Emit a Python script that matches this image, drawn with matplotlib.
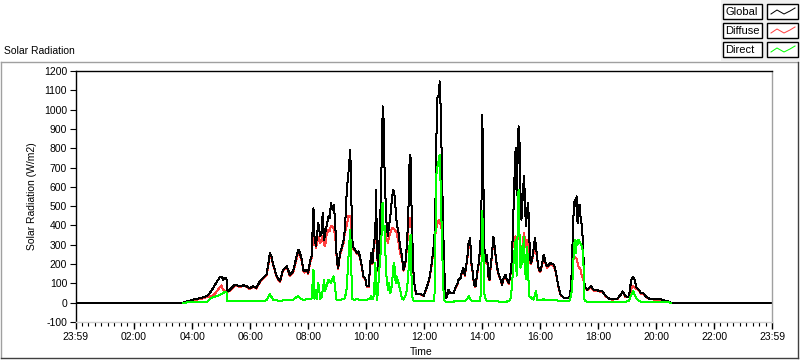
import matplotlib.pyplot as plt
import numpy as np
from matplotlib.lines import Line2D
from matplotlib.patches import Rectangle

plt.rcParams['font.family'] = ['Liberation Sans', 'DejaVu Sans']

# clock time of each sample
times = [
    "03:41", "04:01", "04:22", "04:32", "04:37", "04:43", "04:50", "04:57", "05:01", "05:04",
    "05:08", "05:11", "05:13", "05:18", "05:28", "05:39", "05:46", "05:53", "05:59", "06:06",
    "06:13", "06:20", "06:27", "06:34", "06:41", "06:44", "06:48", "06:55", "07:02", "07:08",
    "07:16", "07:22", "07:29", "07:36", "07:40", "07:43", "07:47", "07:50", "07:53", "07:57",
    "08:00", "08:04", "08:07", "08:11", "08:13", "08:16", "08:18", "08:21", "08:25", "08:28",
    "08:30", "08:33", "08:35", "08:38", "08:42", "08:45", "08:47", "08:50", "08:53", "08:56",
    "08:58", "09:00", "09:02", "09:06", "09:10", "09:13", "09:16", "09:20", "09:23", "09:27",
    "09:29", "09:31", "09:34", "09:37", "09:41", "09:44", "09:47", "09:51", "09:54", "09:58",
    "10:01", "10:05", "10:08", "10:10", "10:13", "10:16", "10:19", "10:20", "10:22", "10:24",
    "10:27", "10:29", "10:31", "10:33", "10:34", "10:36", "10:38", "10:40", "10:42", "10:45",
    "10:47", "10:50", "10:53", "10:56", "10:58", "11:01", "11:03", "11:07", "11:10", "11:14",
    "11:17", "11:21", "11:24", "11:27", "11:30", "11:32", "11:34", "11:36", "11:38", "11:40",
    "11:43", "11:48", "11:52", "11:55", "11:59", "12:02", "12:06", "12:09", "12:12", "12:16",
    "12:19", "12:21", "12:23", "12:25", "12:27", "12:30", "12:32", "12:34", "12:35", "12:37",
    "12:39", "12:41", "12:43", "12:45", "12:48", "12:50", "12:54", "13:01", "13:04", "13:08",
    "13:11", "13:15", "13:18", "13:21", "13:24", "13:26", "13:29", "13:32", "13:34", "13:35",
    "13:37", "13:40", "13:43", "13:46", "13:49", "13:53", "13:56", "13:58", "14:00", "14:02",
    "14:04", "14:05", "14:08", "14:10", "14:12", "14:15", "14:17", "14:20", "14:23", "14:26",
    "14:29", "14:31", "14:34", "14:37", "14:41", "14:44", "14:48", "14:51", "14:55", "14:58",
    "15:00", "15:03", "15:06", "15:09", "15:11", "15:14", "15:15", "15:17", "15:19", "15:21",
    "15:23", "15:26", "15:28", "15:30", "15:33", "15:35", "15:37", "15:40", "15:43", "15:46",
    "15:49", "15:51", "15:54", "15:57", "16:00", "16:04", "16:07", "16:11", "16:14", "16:18",
    "16:21", "16:28", "16:31", "16:35", "16:38", "16:42", "16:49", "16:56", "17:01", "17:04",
    "17:06", "17:08", "17:11", "17:13", "17:15", "17:17", "17:19", "17:21", "17:23", "17:26",
    "17:29", "17:30", "17:32", "17:37", "17:44", "17:51", "18:01", "18:08", "18:15", "18:22",
    "18:29", "18:39", "18:46", "18:50", "18:56", "19:03", "19:08", "19:12", "19:15", "19:19",
    "19:23", "19:28", "19:33", "19:38", "19:45", "19:55", "20:09", "20:16", "20:26", "20:30",
]

global_rad = [
    0, 15, 27, 36, 52, 73, 104, 130, 135, 119,
    130, 128, 57, 67, 93, 85, 90, 85, 74, 85,
    76, 110, 128, 145, 257, 240, 197, 136, 110, 171,
    188, 145, 162, 240, 275, 257, 223, 171, 162, 171,
    154, 214, 240, 490, 343, 292, 343, 413, 343, 361,
    465, 326, 361, 395, 447, 438, 516, 482, 508, 413,
    275, 206, 180, 257, 292, 318, 378, 585, 663, 793,
    585, 326, 283, 275, 257, 266, 240, 188, 136, 128,
    85, 85, 188, 257, 206, 309, 361, 585, 361, 171,
    292, 413, 654, 793, 1017, 948, 680, 534, 413, 343,
    395, 447, 534, 585, 568, 482, 413, 361, 292, 240,
    171, 206, 292, 447, 767, 750, 456, 283, 145, 93,
    45, 45, 47, 40, 36, 59, 85, 110, 145, 214,
    283, 335, 490, 835, 1060, 1077, 1146, 1008, 887, 663,
    404, 214, 76, 24, 41, 67, 50, 50, 76, 93,
    119, 128, 162, 180, 145, 180, 232, 318, 300, 335,
    214, 162, 93, 85, 145, 214, 300, 421, 974, 663,
    352, 214, 214, 249, 145, 119, 180, 249, 343, 283,
    214, 180, 145, 128, 93, 128, 145, 119, 102, 145,
    180, 343, 611, 801, 559, 835, 913, 827, 568, 430,
    516, 654, 557, 395, 482, 516, 343, 206, 223, 275,
    335, 292, 223, 171, 162, 206, 249, 206, 188, 197,
    206, 197, 171, 119, 76, 41, 24, 24, 33, 102,
    257, 430, 534, 500, 551, 413, 482, 508, 447, 395,
    275, 136, 85, 67, 85, 67, 62, 59, 36, 21,
    17, 20, 41, 59, 33, 30, 119, 133, 119, 76,
    70, 50, 50, 33, 21, 17, 17, 12, 5, 0,
]

diffuse_rad = [
    0, 12, 22, 30, 33, 36, 55, 78, 90, 66,
    62, 60, 52, 63, 88, 82, 86, 82, 71, 82,
    73, 105, 123, 140, 245, 232, 190, 132, 106, 165,
    180, 140, 155, 225, 260, 245, 215, 165, 156, 165,
    148, 205, 230, 361, 320, 285, 300, 343, 310, 330,
    345, 300, 292, 350, 378, 370, 400, 395, 380, 343,
    265, 200, 175, 248, 280, 305, 365, 400, 447, 447,
    420, 292, 275, 268, 250, 258, 233, 183, 132, 124,
    82, 82, 180, 240, 200, 290, 330, 360, 330, 165,
    270, 380, 420, 430, 420, 400, 390, 380, 330, 309,
    340, 361, 387, 387, 380, 370, 360, 309, 257, 230,
    165, 200, 275, 378, 439, 439, 378, 275, 140, 90,
    43, 43, 45, 38, 34, 57, 82, 106, 140, 205,
    270, 320, 352, 387, 404, 430, 420, 400, 390, 370,
    330, 205, 74, 23, 40, 65, 48, 48, 74, 90,
    115, 124, 157, 174, 140, 174, 222, 300, 285, 318,
    205, 156, 90, 82, 140, 205, 285, 360, 370, 350,
    320, 205, 205, 240, 140, 115, 174, 240, 330, 272,
    205, 174, 140, 124, 90, 124, 140, 115, 98, 140,
    172, 309, 330, 343, 330, 343, 343, 330, 275, 292,
    292, 361, 330, 290, 326, 320, 240, 200, 215, 257,
    275, 270, 215, 165, 157, 198, 240, 198, 182, 190,
    198, 190, 165, 115, 73, 40, 23, 23, 30, 95,
    188, 223, 240, 233, 230, 210, 188, 180, 171, 136,
    119, 100, 80, 65, 80, 63, 58, 55, 34, 20,
    16, 18, 38, 55, 30, 28, 75, 85, 80, 70,
    66, 47, 47, 31, 20, 16, 16, 11, 5, 0,
]

direct_rad = [
    0, 3, 5, 6, 20, 28, 33, 40, 45, 50,
    55, 57, 10, 8, 8, 7, 8, 8, 7, 9,
    8, 9, 10, 12, 45, 30, 15, 12, 10, 12,
    14, 12, 15, 30, 33, 25, 18, 16, 16, 17,
    18, 19, 20, 171, 20, 67, 19, 102, 20, 30,
    67, 119, 60, 85, 119, 110, 100, 125, 136, 70,
    20, 12, 12, 15, 18, 20, 22, 80, 223, 378,
    206, 19, 16, 16, 20, 16, 15, 15, 15, 16,
    16, 18, 20, 33, 19, 40, 206, 102, 12, 50,
    160, 240, 275, 499, 516, 378, 400, 240, 136, 67,
    102, 50, 85, 188, 206, 100, 136, 100, 67, 20,
    16, 33, 67, 136, 326, 350, 100, 15, 10, 8,
    7, 7, 7, 7, 7, 7, 8, 8, 8, 8,
    9, 10, 318, 663, 698, 740, 767, 600, 490, 300,
    100, 14, 7, 6, 6, 6, 6, 6, 7, 7,
    8, 8, 9, 10, 10, 12, 20, 33, 25, 20,
    12, 10, 8, 7, 7, 7, 8, 145, 473, 318,
    59, 33, 12, 8, 7, 7, 7, 7, 8, 8,
    7, 7, 6, 6, 6, 6, 6, 6, 10, 16,
    50, 145, 257, 326, 140, 456, 585, 350, 180, 291,
    200, 343, 200, 120, 291, 150, 33, 30, 20, 16,
    40, 59, 12, 12, 12, 12, 20, 14, 12, 12,
    16, 12, 12, 12, 10, 10, 10, 10, 12, 41,
    85, 206, 326, 257, 320, 300, 326, 315, 307, 290,
    257, 33, 7, 6, 6, 6, 5, 5, 5, 5,
    4, 5, 6, 6, 5, 8, 41, 60, 40, 20,
    10, 6, 5, 5, 5, 4, 4, 3, 2, 0,
]

y_ticks = list(range(-100, 1201, 100))
x_tick_labels = ["23:59", "02:00", "04:00", "06:00", "08:00", "10:00", "12:00",
                 "14:00", "16:00", "18:00", "20:00", "22:00", "23:59"]

W, H = 800, 361


def fx(x):
    return x / W


def fy(y):
    return 1 - y / H


t = np.array([int(s[:2]) + int(s[3:]) / 60 for s in times])
t0, t1 = -1 / 60, 24 - 1 / 60

fig = plt.figure(figsize=(W / 100, H / 100), dpi=100)
fig.patch.set_facecolor('white')
ax = fig.add_axes([fx(75.5), fy(322), fx(772) - fx(75.5), fy(71) - fy(322)])

lw = 0.72
# diffuse under global, direct on top; global is zero through the night
ax.plot(t, diffuse_rad, color='#ff4040', lw=lw, antialiased=False)
ax.plot(np.r_[t0, t, t1], np.r_[0, global_rad, 0], color='black', lw=lw, antialiased=False)
ax.plot(t, direct_rad, color='#00ff00', lw=lw, antialiased=False)

ax.set_xlim(t0, t1)
ax.set_ylim(-100, 1200)
ax.set_yticks(y_ticks)
ax.set_yticklabels([str(v) for v in y_ticks], fontsize=7.5)
xt = [t0] + list(range(2, 24, 2)) + [t1]
ax.set_xticks(xt)
ax.set_xticklabels(x_tick_labels, fontsize=7.5)
ax.set_xticks(np.arange(t0, t1, 2 / 9), minor=True)
ax.tick_params(axis='y', length=4, width=0.8, pad=2)
ax.tick_params(axis='x', which='major', length=5, width=1.0, pad=2)
ax.tick_params(axis='x', which='minor', length=3, width=0.8)

ax.spines['left'].set_color('black')
ax.spines['top'].set_color('black')
ax.spines['right'].set_color('#a0a0a0')
ax.spines['bottom'].set_color('#d0d0d0')
for s in ax.spines.values():
    s.set_linewidth(1.0)

fig.text(fx(32), fy(196), "Solar Radiation (W/m2)", rotation=90, ha='center', va='center', fontsize=7.5)
fig.text(fx(421), fy(352), "Time", ha='center', va='center', fontsize=7.5)
fig.text(fx(4), fy(51), "Solar Radiation", ha='left', va='center', fontsize=7.5)

# outer graph frame
fig.add_artist(Line2D([fx(1), fx(798)], [fy(62), fy(62)], color='#a0a0a0', lw=1))
fig.add_artist(Line2D([fx(1), fx(1)], [fy(62), fy(358)], color='#a0a0a0', lw=1))
fig.add_artist(Line2D([fx(1), fx(798)], [fy(358), fy(358)], color='#404040', lw=1))
fig.add_artist(Line2D([fx(798), fx(798)], [fy(62), fy(358)], color='#404040', lw=1))

# legend block
fig.add_artist(Rectangle((fx(721), fy(61)), fx(800) - fx(721), fy(0) - fy(61),
                         facecolor='#f0f0f0', edgecolor='none'))
legend_names = ["Global", "Diffuse", "Direct"]
legend_colors = ['black', '#ff4040', '#00ff00']
zig = [(4, 10), (10, 6), (17, 10), (23, 7), (28, 4)]
for i, (name, col) in enumerate(zip(legend_names, legend_colors)):
    top = 4 + i * 19
    fig.add_artist(Rectangle((fx(723), fy(top + 15)), fx(39), fy(0) - fy(15),
                             facecolor='white', edgecolor='black', lw=1))
    fig.add_artist(Rectangle((fx(767), fy(top + 15)), fx(31), fy(0) - fy(15),
                             facecolor='white', edgecolor='black', lw=1))
    fig.text(fx(725), fy(top + 8), name, ha='left', va='center', fontsize=8)
    fig.add_artist(Line2D([fx(767 + a) for a, b in zig], [fy(top + b) for a, b in zig],
                          color=col, lw=0.72))

fig.savefig("out.png", dpi=100)
